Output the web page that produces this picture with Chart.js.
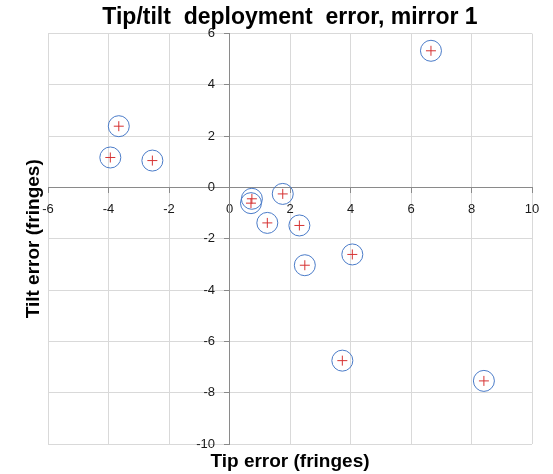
<!DOCTYPE html>
<html>
<head>
<meta charset="utf-8">
<script src="https://cdn.jsdelivr.net/npm/chart.js@4.4.1/dist/chart.umd.min.js"></script>
<style>
  html, body { margin: 0; padding: 0; background: #fff; }
  #wrap { width: 553px; height: 474px; position: relative; }
</style>
</head>
<body>
<div id="wrap"><canvas id="tipTiltChart"></canvas></div>
<script>
// values (fringes)
const tipErr = [-3.66, -3.94, -2.55, 0.74, 0.71, 1.76, 1.25, 2.31, 2.49, 4.06, 3.73, 8.41, 6.66];
const tiltErr = [2.39, 1.17, 1.05, -0.44, -0.61, -0.25, -1.38, -1.48, -3.03, -2.61, -6.75, -7.54, 5.33];

const xTicks = [-6, -4, -2, 0, 2, 4, 6, 8, 10];
const yTicks = [-10, -8, -6, -4, -2, 0, 2, 4, 6];

const chartTitle = 'Tip/tilt  deployment  error, mirror 1';
const xTitle = 'Tip error (fringes)';
const yTitle = 'Tilt error (fringes)';

const points = tipErr.map((x, i) => ({ x: x, y: tiltErr[i] }));

const fontFamily = '"Liberation Sans", Arial, sans-serif';
const gridColor = '#d9d9d9';
const axisColor = '#8a8a8a';

// axis titles sit at the chart edges, not next to the centred axes
const axisTitles = {
  id: 'axisTitles',
  afterDraw(chart) {
    const ctx = chart.ctx;
    const area = chart.chartArea;
    ctx.save();
    ctx.fillStyle = '#000';
    ctx.font = 'bold 19px ' + fontFamily;
    ctx.textAlign = 'center';
    ctx.textBaseline = 'middle';
    ctx.fillText(xTitle, (area.left + area.right) / 2, 462);
    ctx.translate(34, (area.top + area.bottom) / 2);
    ctx.rotate(-Math.PI / 2);
    ctx.fillText(yTitle, 0, 0);
    ctx.restore();
  }
};

const noSpace = (scale) => {
  if (scale.isHorizontal()) scale.height = 0; else scale.width = 0;
};

new Chart(document.getElementById('tipTiltChart'), {
  type: 'scatter',
  data: {
    datasets: [{
      label: 'circles',
      data: points,
      pointStyle: 'circle',
      pointRadius: 10.5,
      pointHoverRadius: 10.5,
      backgroundColor: 'rgba(0,0,0,0)',
      borderColor: '#4a7bc8',
      borderWidth: 1
    }, {
      label: 'centres',
      data: points,
      pointStyle: 'cross',
      pointRadius: 5,
      pointHoverRadius: 5,
      borderColor: '#d63333',
      borderWidth: 1
    }]
  },
  options: {
    responsive: true,
    maintainAspectRatio: false,
    animation: false,
    layout: { padding: { left: 48, right: 21, top: 0, bottom: 30 } },
    plugins: {
      legend: { display: false },
      tooltip: { enabled: false },
      title: {
        display: true,
        text: chartTitle,
        color: '#000',
        font: { family: fontFamily, size: 23, weight: 'bold' },
        padding: { top: 4, bottom: 2 }
      }
    },
    scales: {
      x: {
        type: 'linear',
        position: { y: 0 },
        min: xTicks[0],
        max: xTicks[xTicks.length - 1],
        afterFit: noSpace,
        afterBuildTicks: (scale) => { scale.ticks = xTicks.map(v => ({ value: v })); },
        grid: { color: gridColor, tickColor: axisColor, tickLength: 5 },
        border: { color: axisColor },
        ticks: {
          autoSkip: false, maxRotation: 0, padding: 9,
          color: '#1a1a1a', font: { family: fontFamily, size: 13 }
        }
      },
      y: {
        type: 'linear',
        position: { x: 0 },
        min: yTicks[0],
        max: yTicks[yTicks.length - 1],
        afterFit: noSpace,
        afterBuildTicks: (scale) => { scale.ticks = yTicks.map(v => ({ value: v })); },
        grid: { color: gridColor, tickColor: axisColor, tickLength: 5 },
        border: { color: axisColor },
        ticks: {
          autoSkip: false,
          // a positioned y axis ignores tick padding, so keep labels off the line
          callback: (v) => v + '    ',
          color: '#1a1a1a', font: { family: fontFamily, size: 13 }
        }
      }
    }
  },
  plugins: [axisTitles]
});
</script>
</body>
</html>
